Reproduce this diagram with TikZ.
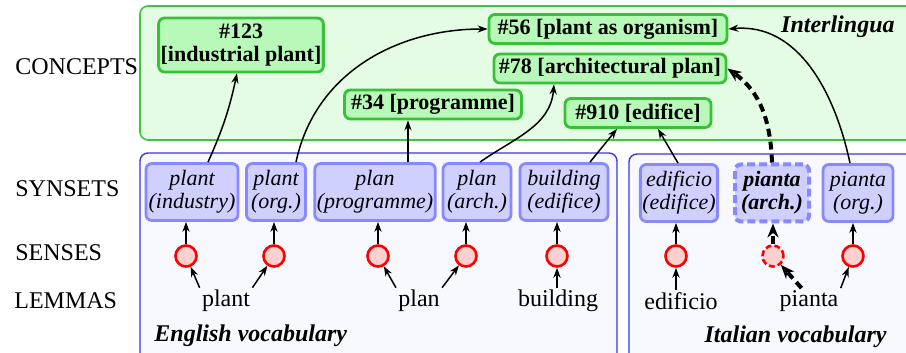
\documentclass[tikz,border=0pt,12pt]{standalone}
\usepackage{fontspec}
\setmainfont{Liberation Serif}
\usetikzlibrary{arrows.meta}
\definecolor{ilfill}{RGB}{228,252,228}
\definecolor{illine}{RGB}{60,200,60}
\definecolor{confill}{RGB}{184,248,184}
\definecolor{conline}{RGB}{56,192,56}
\definecolor{synfill}{RGB}{208,208,255}
\definecolor{synline}{RGB}{136,136,255}
\definecolor{vocfill}{RGB}{248,248,255}
\definecolor{vocline}{RGB}{56,56,220}
\definecolor{sensefill}{RGB}{255,208,208}

\begin{document}
\begin{tikzpicture}[x=0.5pt,y=-0.5pt,
	concept/.style={draw=conline, fill=confill, line width=1.4pt, rounded corners=3pt,
		font=\fontsize{11}{11.5}\selectfont\bfseries, inner sep=1pt, minimum height=14.5pt, align=center},
	synset/.style={draw=synline, fill=synfill, line width=1.4pt, rounded corners=3pt,
		font=\fontsize{11}{11.5}\selectfont\itshape, inner sep=1pt, minimum height=28.5pt, align=center},
	sense/.style={circle, draw=red, fill=sensefill, line width=1.3pt, minimum size=10.5pt, inner sep=0pt},
	lemma/.style={font=\fontsize{12}{12}\selectfont, inner sep=1pt},
	layer/.style={anchor=west, font=\fontsize{12}{12}\selectfont},
	link/.style={-{Stealth[length=5pt,width=3.6pt]}, line width=0.75pt},
	newlink/.style={-{Stealth[length=7pt,width=5.5pt]}, line width=2pt, dash pattern=on 4pt off 2.5pt}]
	\useasboundingbox (0,0) rectangle (906,353);
	\clip (0,0) rectangle (906,353);

	% layers
	\filldraw[fill=ilfill, draw=illine, line width=0.8pt, rounded corners=4pt] (140,6) rectangle (930,140);
	\filldraw[fill=vocfill, draw=vocline, line width=0.7pt, rounded corners=4pt] (140,153) rectangle (617,380);
	\filldraw[fill=vocfill, draw=vocline, line width=0.7pt, rounded corners=4pt] (629,154) rectangle (930,380);

	\node[layer] (lconc) at (7,67) {CONCEPTS};
	\node[layer] (lsyn) at (7,189) {SYNSETS};
	\node[layer] (lsen) at (7,253) {SENSES};
	\node[layer] (llem) at (6,301) {LEMMAS};
	\node[anchor=east, font=\fontsize{12}{12}\selectfont\bfseries\itshape] (inter) at (903,27) {Interlingua};
	\node[anchor=west, font=\fontsize{12}{12}\selectfont\bfseries\itshape] (eng) at (146,336) {English vocabulary};
	\node[anchor=east, font=\fontsize{12}{12}\selectfont\bfseries\itshape] (ita) at (895,337) {Italian vocabulary};

	% concepts
	\node[concept, minimum width=82pt, minimum height=27pt] (c123) at (241,45) {\#123\\{}[industrial plant]};
	\node[concept, minimum width=119pt] (c56) at (608,29) {\#56 [plant as organism]};
	\node[concept, minimum width=116pt] (c78) at (610,68.5) {\#78 [architectural plan]};
	\node[concept, minimum width=88.5pt] (c34) at (433,104.5) {\#34 [programme]};
	\node[concept, minimum width=73pt] (c910) at (638,113) {\#910 [edifice]};

	% synsets
	\node[synset, minimum width=46pt] (syn1) at (192,192) {plant\\(industry)};
	\node[synset, minimum width=29.5pt] (syn2) at (276,192) {plant\\(org.)};
	\node[synset, minimum width=60pt] (syn3) at (375,192) {plan\\(programme)};
	\node[synset, minimum width=34pt] (syn4) at (477,192) {plan\\(arch.)};
	\node[synset, minimum width=44pt] (syn5) at (564,192) {building\\(edifice)};
	\node[synset, minimum width=38.5pt] (syn6) at (679,193) {edificio\\(edifice)};
	\node[synset, minimum width=37pt, line width=2pt, dash pattern=on 4pt off 2pt,
		font=\fontsize{11}{11.5}\selectfont\bfseries\itshape] (syn7) at (772,193) {pianta\\(arch.)};
	\node[synset, minimum width=35pt] (syn8) at (858,193) {pianta\\(org.)};

	% senses
	\node[sense] (sen1) at (186,256) {};
	\node[sense] (sen2) at (274,256) {};
	\node[sense] (sen3) at (378,256) {};
	\node[sense] (sen4) at (466,256) {};
	\node[sense] (sen5) at (557,256) {};
	\node[sense] (sen6) at (676,256) {};
	\node[sense, dash pattern=on 3pt off 1.5pt] (sen7) at (773,256) {};
	\node[sense] (sen8) at (853,256) {};

	% lemmas
	\node[lemma] (plant) at (226,301) {plant};
	\node[lemma] (plan) at (419,301) {plan};
	\node[lemma] (building) at (558,301) {building};
	\node[lemma] (edificio) at (681,301) {edificio};
	\node[lemma] (pianta) at (809,301) {pianta};

	% lemma -> sense
	\draw[link] (plant.north west) -- (sen1);
	\draw[link] (plant.north east) -- (sen2);
	\draw[link] (plan.north west) -- (sen3);
	\draw[link] (plan.north east) -- (sen4);
	\draw[link] (building.north -| sen5) -- (sen5);
	\draw[link] (edificio.north -| sen6) -- (sen6);
	\draw[newlink] (pianta.120) -- (sen7);
	\draw[link] (pianta.north east) -- (sen8);

	% sense -> synset
	\foreach \i in {1,...,6,8}
		\draw[link] (sen\i) -- (sen\i |- syn\i.south);
	\draw[newlink] (sen7) -- (sen7 |- syn7.south);

	% synset -> concept
	\coordinate (p3) at ([xshift=16.5pt]syn3.north);
	\draw[link] ([xshift=8pt]syn1.north) to[bend right=6] ([xshift=-2pt]c123.south);
	\draw[link] ([xshift=10pt]syn2.north) to[out=78,in=180] (c56.west);
	\draw[link] (p3) -- (p3 |- c34.south);
	\draw[link] ([xshift=1.5pt]syn4.north) to[out=35,in=-95] ([xshift=-28pt]c78.south);
	\draw[link] ([xshift=13pt]syn5.north) -- ([xshift=-10.5pt]c910.south);
	\draw[link] ([xshift=-0.5pt]syn6.north) -- ([xshift=10pt]c910.south);
	\draw[newlink] (syn7.north) to[out=92,in=-35] (c78.east);
	\draw[link] ([xshift=-4pt]syn8.north) to[out=102,in=5] (c56.east);

\end{tikzpicture}
\end{document}
